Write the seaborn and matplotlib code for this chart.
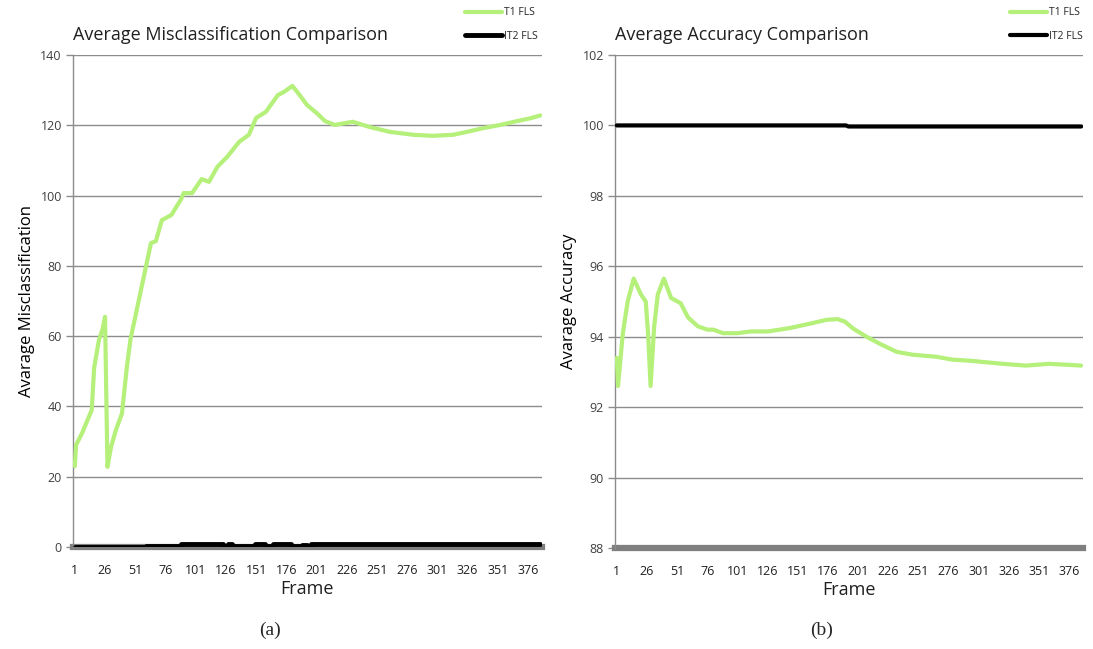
import matplotlib
matplotlib.use("Agg")
import matplotlib.pyplot as plt
import seaborn as sns

# T1 FLS misclassification (frame, value)
mis_frames = [1, 2, 7, 15, 17, 21, 24, 26, 28, 31, 35, 40, 44, 47, 54, 60, 64, 68, 73,
              81, 85, 89, 91, 98, 106, 112, 119, 127, 137, 145, 151, 159, 169, 174,
              181, 187, 193, 201, 208, 216, 226, 231, 245, 262, 281, 297, 314, 325,
              339, 353, 367, 378, 386]
mis_t1 = [23, 29, 32.4, 39, 51, 59, 62, 65.5, 22.8, 28.5, 33.3, 38, 51, 59, 70.3, 80,
          86.5, 87, 93, 94.5, 96.8, 99, 100.7, 100.7, 104.7, 103.9, 108.2, 111, 115.3,
          117.3, 122.1, 123.8, 128.6, 129.5, 131.2, 128.6, 125.8, 123.5, 121.2, 120.1,
          120.7, 121, 119.5, 118.1, 117.3, 117, 117.3, 118.1, 119.2, 120.1, 121.2, 122,
          122.8]

# IT2 FLS misclassification (stays near zero)
mis_it2_frames = [1, 58, 60, 87, 89, 122, 124, 128, 131, 135, 148, 150, 156, 158, 163,
                  165, 178, 180, 187, 189, 193, 196, 386]
mis_it2 = [0, 0, 0.4, 0.4, 0.8, 0.8, 0.2, 0.8, 0.2, 0.3, 0.3, 0.8, 0.8, 0.2, 0.2,
           0.8, 0.8, 0.2, 0.2, 0.6, 0.3, 0.8, 0.8]

# T1 FLS accuracy
acc_frames = [1, 2, 6, 10, 15, 21, 25, 27, 29, 32, 35, 40, 46, 54, 60, 68, 76, 81, 89,
              101, 112, 126, 136, 145, 161, 175, 184, 190, 197, 208, 219, 233, 246,
              266, 279, 293, 321, 340, 359, 376, 386]
acc_t1 = [93.4, 92.6, 94.1, 95.0, 95.65, 95.2, 95.0, 94.05, 92.6, 94.3, 95.2, 95.65,
          95.1, 94.95, 94.55, 94.3, 94.2, 94.2, 94.1, 94.1, 94.15, 94.15, 94.2, 94.25,
          94.37, 94.48, 94.5, 94.43, 94.23, 94.0, 93.8, 93.57, 93.49, 93.43, 93.35,
          93.32, 93.23, 93.18, 93.23, 93.2, 93.18]

# IT2 FLS accuracy
acc_it2_frames = [1, 191, 193, 386]
acc_it2 = [100, 100, 99.97, 99.97]

frame_ticks = list(range(1, 377, 25))

green = "#b4f07a"
grid_gray = "#8c8c8c"
text_gray = "#404040"

sns.set_style("white")
plt.rcParams["font.family"] = ["Open Sans", "DejaVu Sans"]

fig = plt.figure(figsize=(10.93, 6.49), dpi=100)
ax1 = fig.add_axes([73 / 1093, 102 / 649, 469 / 1093, 492 / 649])
ax2 = fig.add_axes([615 / 1093, 101 / 649, 468 / 1093, 493 / 649])


def style_axis(ax, ylo, yhi, step, title, ylabel):
    ax.set_xlim(-0.5, 387.5)
    ax.set_ylim(ylo, yhi)
    ax.set_yticks(range(ylo, yhi + 1, step))
    ax.set_xticks(frame_ticks)
    ax.yaxis.grid(True, color=grid_gray, linewidth=1)
    ax.set_axisbelow(True)
    for s in ["top", "right"]:
        ax.spines[s].set_visible(False)
    ax.spines["left"].set_color(grid_gray)
    ax.spines["left"].set_linewidth(1)
    ax.spines["bottom"].set_color("#7f7f7f")
    ax.spines["bottom"].set_linewidth(4.5)
    ax.spines["bottom"].set_zorder(1.5)
    ax.tick_params(axis="y", left=True, length=5, width=1, color=grid_gray,
                   labelsize=9, labelcolor=text_gray, pad=3)
    ax.tick_params(axis="x", bottom=False, labelsize=9, labelcolor="#202020", pad=9)
    ax.set_title(title, loc="left", fontsize=13, color="#202020", pad=11)
    ax.set_xlabel("Frame", fontsize=13, color="#202020", labelpad=2)
    ax.set_ylabel(ylabel, fontsize=12, color="black", labelpad=4)


sns.lineplot(x=mis_frames, y=mis_t1, ax=ax1, color=green, linewidth=3, label="T1 FLS",
             zorder=3)
sns.lineplot(x=mis_it2_frames, y=mis_it2, ax=ax1, color="black", linewidth=3.5,
             drawstyle="steps-post", label="IT2 FLS", zorder=3)
style_axis(ax1, 0, 140, 20, "Average Misclassification Comparison",
           "Avarage Misclassification")

sns.lineplot(x=acc_frames, y=acc_t1, ax=ax2, color=green, linewidth=3, label="T1 FLS",
             zorder=3)
sns.lineplot(x=acc_it2_frames, y=acc_it2, ax=ax2, color="black", linewidth=3,
             label="IT2 FLS", zorder=3)
style_axis(ax2, 88, 102, 2, "Average Accuracy Comparison", "Avarage Accuracy")

for ax, right in [(ax1, 545 / 1093), (ax2, 1090 / 1093)]:
    ax.legend(loc="upper right", bbox_to_anchor=(right, 1.0), bbox_transform=fig.transFigure,
              frameon=False, fontsize=7.5, handlelength=3.5, handletextpad=0.2,
              labelspacing=1.2, borderaxespad=0.3)

fig.text(270 / 1093, 1 - 630 / 649, "(a)", ha="center", va="center", fontsize=14,
         family="Liberation Serif")
fig.text(822 / 1093, 1 - 630 / 649, "(b)", ha="center", va="center", fontsize=14,
         family="Liberation Serif")

fig.savefig("out.png", dpi=100)
